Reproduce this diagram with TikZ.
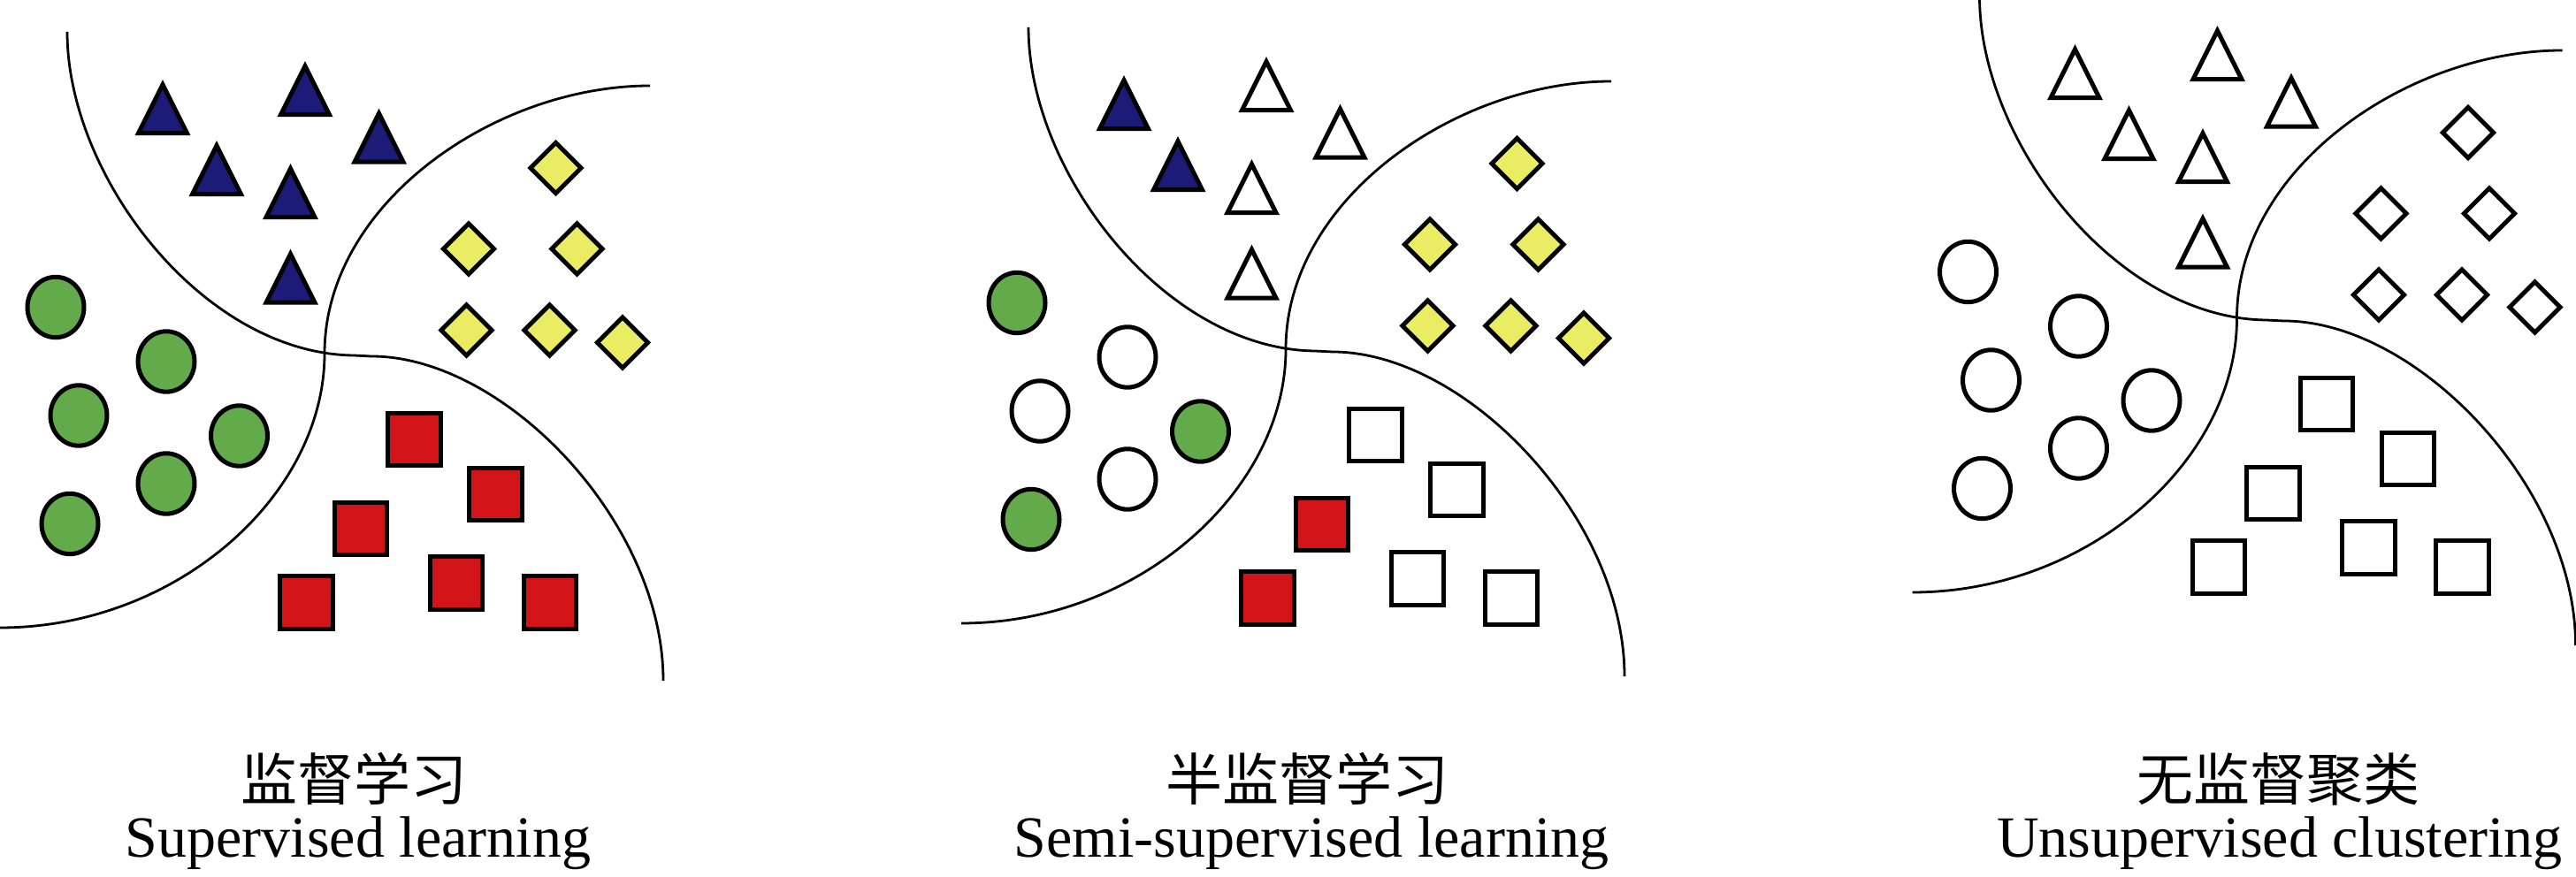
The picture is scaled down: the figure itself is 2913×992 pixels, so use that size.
\documentclass[tikz,border=0pt]{standalone}
\usepackage{fontspec}
\setmainfont{Liberation Serif}
\newfontfamily\cjk{Noto Sans CJK SC}
\usetikzlibrary{shapes.geometric}
\definecolor{navy}{HTML}{1C1C78}
\definecolor{grn}{HTML}{62AA4A}
\definecolor{ylw}{HTML}{EAEC64}
\definecolor{rd}{HTML}{D21318}
\tikzset{
  sepline/.style={line width=0.7pt},
  shp/.style={draw=black, line width=1.25pt, inner sep=0pt, outer sep=0pt},
  circ/.style={shp, ellipse, minimum width=16pt, minimum height=17.1pt},
  sq/.style={shp, rectangle, minimum width=14.8pt, minimum height=14.8pt},
  dia/.style={shp, diamond, minimum width=14.3pt, minimum height=14.3pt},
  tri/.pic={\path[pic actions] (0,-26) -- (27.5,29) -- (-27.5,29) -- cycle;},
  triangle style/.style={draw=black, line width=1.25pt},
  cn/.style={font=\cjk\fontsize{16pt}{19pt}\selectfont, inner sep=0pt},
  en/.style={font=\fontsize{16.5pt}{20pt}\selectfont, inner sep=0pt, anchor=base},
}
\newcommand\boundaries{%
  \draw[sepline] (76,36) .. controls (76,200) and (230,400) .. (400,402) -- (420,403)
        .. controls (570,403) and (750,590) .. (750,770);
  \draw[sepline] (735,97) .. controls (560,97) and (367,230) .. (367,400)
        .. controls (367,560) and (200,710) .. (0,710);
}
\begin{document}
\begin{tikzpicture}[x=0.25pt,y=-0.25pt]
\useasboundingbox (0,0) rectangle (2913,992);
\clip (0,0) rectangle (2913,992);

% ---------- panel 1 ----------
\begin{scope}
  \boundaries
  \foreach \x/\y/\c [count=\i] in {184/121.75/navy,345/100.75/navy,428.5/154.25/navy,245/190.75/navy,328.5/216.75/navy,328.5/313.25/navy}
    \pic[triangle style, fill=\c] (pat\i) at (\x,\y) {tri};
  \foreach \x/\y/\c [count=\i] in {628.5/190/ylw,530/281.5/ylw,652.5/281.5/ylw,527.5/373.5/ylw,621.5/373.5/ylw,704/387.5/ylw}
    \node[dia, fill=\c] (pad\i) at (\x,\y) {};
  \foreach \x/\y/\c [count=\i] in {63/347.5/grn,188/409/grn,89/470/grn,270.5/493/grn,188/547/grn,79/592.5/grn}
    \node[circ, fill=\c] (pac\i) at (\x,\y) {};
  \foreach \x/\y/\c [count=\i] in {468.5/497/rd,560.5/559/rd,408/598/rd,516/659.5/rd,346.5/681.5/rd,622/681.5/rd}
    \node[sq, fill=\c] (pas\i) at (\x,\y) {};
\end{scope}

% ---------- panel 2 ----------
\begin{scope}[shift={(1087,-5)}]
  \boundaries
  \foreach \x/\y/\c [count=\i] in {184/121.75/navy,345/100.75/white,428.5/154.25/white,245/190.75/navy,328.5/216.75/white,328.5/313.25/white}
    \pic[triangle style, fill=\c] (pbt\i) at (\x,\y) {tri};
  \foreach \x/\y/\c [count=\i] in {628.5/190/ylw,530/281.5/ylw,652.5/281.5/ylw,527.5/373.5/ylw,621.5/373.5/ylw,704/387.5/ylw}
    \node[dia, fill=\c] (pbd\i) at (\x,\y) {};
  \foreach \x/\y/\c [count=\i] in {63/347.5/grn,188/409/white,89/470/white,270.5/493/grn,188/547/white,79/592.5/grn}
    \node[circ, fill=\c] (pbc\i) at (\x,\y) {};
  \foreach \x/\y/\c [count=\i] in {468.5/497/white,560.5/559/white,408/598/rd,516/659.5/white,346.5/681.5/rd,622/681.5/white}
    \node[sq, fill=\c] (pbs\i) at (\x,\y) {};
\end{scope}

% ---------- panel 3 ----------
\begin{scope}[shift={(2162.5,-40)}]
  \boundaries
  \foreach \x/\y [count=\i] in {184/121.75,345/100.75,428.5/154.25,245/190.75,328.5/216.75,328.5/313.25}
    \pic[triangle style, fill=white] (pct\i) at (\x,\y) {tri};
  \foreach \x/\y [count=\i] in {628.5/190,530/281.5,652.5/281.5,527.5/373.5,621.5/373.5,704/387.5}
    \node[dia, fill=white] (pcd\i) at (\x,\y) {};
  \foreach \x/\y [count=\i] in {63/347.5,188/409,89/470,270.5/493,188/547,79/592.5}
    \node[circ, fill=white] (pcc\i) at (\x,\y) {};
  \foreach \x/\y [count=\i] in {468.5/497,560.5/559,408/598,516/659.5,346.5/681.5,622/681.5}
    \node[sq, fill=white] (pcs\i) at (\x,\y) {};
\end{scope}

% ---------- captions ----------
\node[cn] (cap1) at (400,881) {监督学习};
\node[en] (eng1) at (405,970) {Supervised learning};
\node[cn] (cap2) at (1478,881) {半监督学习};
\node[en] (eng2) at (1483,970) {Semi-supervised learning};
\node[cn] (cap3) at (2576,881) {无监督聚类};
\node[en] (eng3) at (2578,970) {Unsupervised clustering};
\end{tikzpicture}
\end{document}
